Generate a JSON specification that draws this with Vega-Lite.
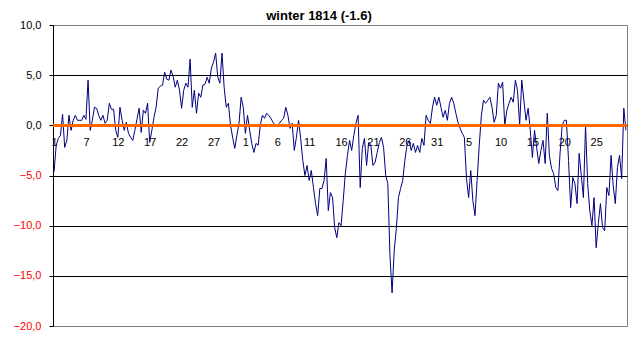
{
  "$schema": "https://vega.github.io/schema/vega-lite/v6.json",
  "width": 574,
  "height": 301,
  "autosize": {"type": "none"},
  "padding": {"left": 53, "top": 25, "right": 16, "bottom": 16},
  "background": "white",
  "config": {
    "font": "Liberation Sans",
    "view": {"stroke": "#808080", "strokeWidth": 1}
  },
  "title": {
    "text": "winter 1814 (-1.6)",
    "font": "Liberation Sans",
    "fontSize": 13,
    "fontWeight": "bold",
    "color": "black",
    "anchor": "middle",
    "offset": -4,
    "dx": -21
  },
  "data": {
    "values": [
      {"i":0,"t":-4.6},{"i":1,"t":-2.0},{"i":2,"t":-1.3},{"i":3,"t":-1.0},{"i":4,"t":1.1},{"i":5,"t":-2.2},{"i":6,"t":-1.5},{"i":7,"t":1.0},{"i":8,"t":-0.5},{"i":9,"t":0.5},
      {"i":10,"t":1.0},{"i":11,"t":0.5},{"i":12,"t":0.5},{"i":13,"t":0.5},{"i":14,"t":1.0},{"i":15,"t":0.6},{"i":16,"t":4.5},{"i":17,"t":-0.5},{"i":18,"t":0.5},{"i":19,"t":1.8},
      {"i":20,"t":1.7},{"i":21,"t":1.0},{"i":22,"t":0.5},{"i":23,"t":1.0},{"i":24,"t":0.2},{"i":25,"t":0.5},{"i":26,"t":2.2},{"i":27,"t":1.6},{"i":28,"t":1.6},{"i":29,"t":-0.5},
      {"i":30,"t":-1.2},{"i":31,"t":1.8},{"i":32,"t":0.5},{"i":33,"t":-0.5},{"i":34,"t":0.3},{"i":35,"t":-0.8},{"i":36,"t":-1.2},{"i":37,"t":-1.5},{"i":38,"t":-0.5},{"i":39,"t":0.6},
      {"i":40,"t":1.7},{"i":41,"t":-0.7},{"i":42,"t":1.5},{"i":43,"t":1.2},{"i":44,"t":2.2},{"i":45,"t":-1.7},{"i":46,"t":-0.5},{"i":47,"t":0.8},{"i":48,"t":1.8},{"i":49,"t":3.7},
      {"i":50,"t":3.9},{"i":51,"t":4.0},{"i":52,"t":5.3},{"i":53,"t":4.6},{"i":54,"t":4.5},{"i":55,"t":5.5},{"i":56,"t":4.9},{"i":57,"t":3.8},{"i":58,"t":4.5},{"i":59,"t":3.5},
      {"i":60,"t":1.7},{"i":61,"t":3.5},{"i":62,"t":4.2},{"i":63,"t":3.8},{"i":64,"t":6.6},{"i":65,"t":1.8},{"i":66,"t":3.5},{"i":67,"t":1.2},{"i":68,"t":3.2},{"i":69,"t":2.8},
      {"i":70,"t":4.0},{"i":71,"t":4.1},{"i":72,"t":4.8},{"i":73,"t":4.2},{"i":74,"t":5.7},{"i":75,"t":6.3},{"i":76,"t":7.2},{"i":77,"t":4.8},{"i":78,"t":4.2},{"i":79,"t":7.2},
      {"i":80,"t":3.8},{"i":81,"t":1.8},{"i":82,"t":2.2},{"i":83,"t":0.0},{"i":84,"t":-1.2},{"i":85,"t":-2.3},{"i":86,"t":-1.0},{"i":87,"t":0.2},{"i":88,"t":2.8},{"i":89,"t":1.8},
      {"i":90,"t":-0.8},{"i":91,"t":1.0},{"i":92,"t":-0.5},{"i":93,"t":-1.8},{"i":94,"t":-2.7},{"i":95,"t":-1.8},{"i":96,"t":-2.0},{"i":97,"t":0.0},{"i":98,"t":1.0},{"i":99,"t":0.7},
      {"i":100,"t":1.2},{"i":101,"t":1.0},{"i":102,"t":0.7},{"i":103,"t":0.3},{"i":104,"t":0.0},{"i":105,"t":0.0},{"i":106,"t":0.2},{"i":107,"t":0.5},{"i":108,"t":0.7},{"i":109,"t":1.8},
      {"i":110,"t":1.0},{"i":111,"t":-0.3},{"i":112,"t":0.2},{"i":113,"t":-2.5},{"i":114,"t":-1.2},{"i":115,"t":0.5},{"i":116,"t":-1.3},{"i":117,"t":-3.5},{"i":118,"t":-5.0},{"i":119,"t":-4.0},
      {"i":120,"t":-5.5},{"i":121,"t":-4.5},{"i":122,"t":-6.2},{"i":123,"t":-7.8},{"i":124,"t":-9.0},{"i":125,"t":-6.3},{"i":126,"t":-6.3},{"i":127,"t":-5.5},{"i":128,"t":-3.3},{"i":129,"t":-8.5},
      {"i":130,"t":-6.7},{"i":131,"t":-7.2},{"i":132,"t":-10.2},{"i":133,"t":-11.2},{"i":134,"t":-9.7},{"i":135,"t":-10.0},{"i":136,"t":-7.5},{"i":137,"t":-4.8},{"i":138,"t":-3.0},{"i":139,"t":-1.5},
      {"i":140,"t":-2.5},{"i":141,"t":-1.0},{"i":142,"t":0.2},{"i":143,"t":1.0},{"i":144,"t":-6.2},{"i":145,"t":-2.3},{"i":146,"t":-1.3},{"i":147,"t":-4.0},{"i":148,"t":-1.7},{"i":149,"t":-2.0},
      {"i":150,"t":-4.0},{"i":151,"t":-3.7},{"i":152,"t":-2.7},{"i":153,"t":-1.7},{"i":154,"t":-1.2},{"i":155,"t":-2.2},{"i":156,"t":-5.0},{"i":157,"t":-5.8},{"i":158,"t":-13.0},{"i":159,"t":-16.7},
      {"i":160,"t":-12.5},{"i":161,"t":-10.3},{"i":162,"t":-7.2},{"i":163,"t":-6.3},{"i":164,"t":-5.5},{"i":165,"t":-3.5},{"i":166,"t":-2.0},{"i":167,"t":-1.5},{"i":168,"t":-2.5},{"i":169,"t":-1.8},
      {"i":170,"t":-2.7},{"i":171,"t":-2.0},{"i":172,"t":-2.7},{"i":173,"t":-1.3},{"i":174,"t":-2.0},{"i":175,"t":1.0},{"i":176,"t":0.5},{"i":177,"t":0.2},{"i":178,"t":1.8},{"i":179,"t":2.8},
      {"i":180,"t":2.0},{"i":181,"t":2.8},{"i":182,"t":1.8},{"i":183,"t":0.8},{"i":184,"t":1.5},{"i":185,"t":0.5},{"i":186,"t":2.2},{"i":187,"t":2.8},{"i":188,"t":2.2},{"i":189,"t":1.2},
      {"i":190,"t":0.3},{"i":191,"t":-0.3},{"i":192,"t":-0.8},{"i":193,"t":-1.2},{"i":194,"t":-5.3},{"i":195,"t":-7.2},{"i":196,"t":-4.5},{"i":197,"t":-7.5},{"i":198,"t":-9.0},{"i":199,"t":-5.5},
      {"i":200,"t":-2.0},{"i":201,"t":1.0},{"i":202,"t":2.5},{"i":203,"t":2.2},{"i":204,"t":2.5},{"i":205,"t":2.8},{"i":206,"t":1.8},{"i":207,"t":0.3},{"i":208,"t":1.0},{"i":209,"t":4.2},
      {"i":210,"t":3.7},{"i":211,"t":4.3},{"i":212,"t":0.0},{"i":213,"t":1.5},{"i":214,"t":2.2},{"i":215,"t":2.8},{"i":216,"t":2.3},{"i":217,"t":4.5},{"i":218,"t":3.5},{"i":219,"t":0.0},
      {"i":220,"t":4.5},{"i":221,"t":2.5},{"i":222,"t":0.5},{"i":223,"t":1.7},{"i":224,"t":-0.5},{"i":225,"t":-3.2},{"i":226,"t":-0.5},{"i":227,"t":-2.2},{"i":228,"t":-3.8},{"i":229,"t":-2.5},
      {"i":230,"t":-1.5},{"i":231,"t":-3.8},{"i":232,"t":1.2},{"i":233,"t":-3.0},{"i":234,"t":-4.3},{"i":235,"t":-4.8},{"i":236,"t":-6.2},{"i":237,"t":-6.5},{"i":238,"t":-2.8},{"i":239,"t":0.0},
      {"i":240,"t":0.5},{"i":241,"t":0.5},{"i":242,"t":-3.5},{"i":243,"t":-8.2},{"i":244,"t":-5.2},{"i":245,"t":-5.8},{"i":246,"t":-7.8},{"i":247,"t":-2.8},{"i":248,"t":-5.0},{"i":249,"t":-7.2},
      {"i":250,"t":0.0},{"i":251,"t":-5.8},{"i":252,"t":-8.5},{"i":253,"t":-10.0},{"i":254,"t":-7.2},{"i":255,"t":-12.2},{"i":256,"t":-9.8},{"i":257,"t":-7.8},{"i":258,"t":-10.2},{"i":259,"t":-10.5},
      {"i":260,"t":-6.2},{"i":261,"t":-7.0},{"i":262,"t":-3.0},{"i":263,"t":-6.0},{"i":264,"t":-7.8},{"i":265,"t":-4.2},{"i":266,"t":-3.0},{"i":267,"t":-5.3},{"i":268,"t":1.7},{"i":269,"t":-0.5}
    ]
  },
  "layer": [
    {
      "mark": {"type": "line", "color": "#000080", "strokeWidth": 1, "interpolate": "linear"},
      "encoding": {
        "x": {
          "field": "i",
          "type": "quantitative",
          "scale": {"domain": [-0.5, 269.5], "nice": false, "zero": false},
          "axis": {
            "title": null,
            "orient": "bottom",
            "offset": -201,
            "values": [0, 15, 30, 45, 60, 75, 90, 105, 120, 135, 150, 165, 180, 195, 210, 225, 240, 255],
            "labelExpr": "['1','7','12','17','22','27','1','6','11','16','21','26','31','5','10','15','20','25'][round(datum.value/15)]",
            "domain": false,
            "ticks": false,
            "grid": false,
            "labelPadding": 11,
            "labelFontSize": 11,
            "labelFont": "Liberation Sans",
            "labelColor": "black",
            "labelFlush": false,
            "labelOverlap": false,
            "labelBound": false
          }
        },
        "y": {
          "field": "t",
          "type": "quantitative",
          "scale": {"domain": [-20, 10], "nice": false, "zero": false},
          "axis": {
            "title": null,
            "values": [-20, -15, -10, -5, 0, 5, 10],
            "labelExpr": "replace(format(datum.value, '.1f'), '.', ',')",
            "labelFontSize": 11,
            "labelFont": "Liberation Sans",
            "labelColor": {"condition": {"test": "datum.value < 0", "value": "red"}, "value": "black"},
            "labelPadding": 8,
            "tickSize": 4,
            "tickColor": "black",
            "domainColor": "black",
            "grid": true,
            "gridColor": {"condition": {"test": "datum.value == 10 || datum.value == -20", "value": "#808080"}, "value": "black"},
            "gridOpacity": 1,
            "gridWidth": 1
          }
        }
      }
    },
    {
      "mark": {"type": "rule", "color": "#FF6600", "strokeWidth": 2.5},
      "encoding": {"y": {"datum": 0}}
    }
  ]
}
